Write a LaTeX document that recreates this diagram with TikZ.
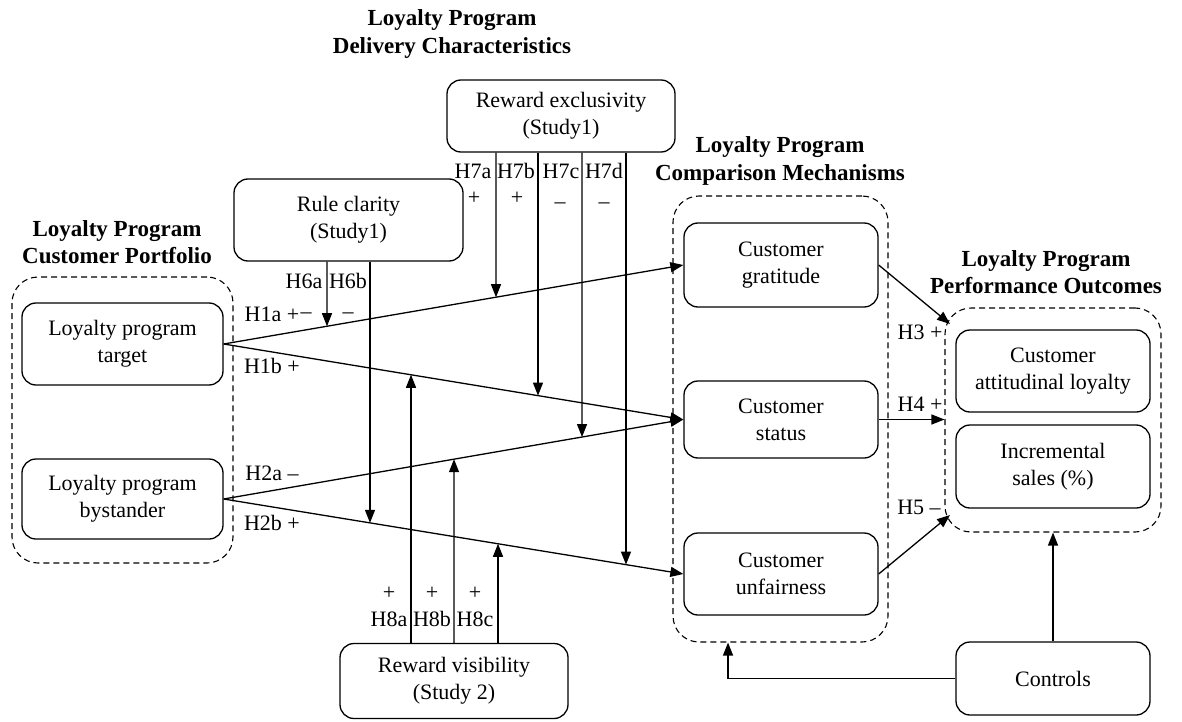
\documentclass[tikz,border=0pt]{standalone}
\usepackage{fontspec}
\setmainfont{Liberation Serif}
\usetikzlibrary{arrows.meta,calc}
\begin{document}
\begin{tikzpicture}[x=1pt,y=-1pt,
  font=\fontsize{22}{27}\selectfont,
  box/.style={draw,line width=1.3pt,rounded corners=14pt,align=center,inner sep=0pt},
  grp/.style={draw,line width=1.1pt,dash pattern=on 6pt off 4pt,rounded corners=26pt,inner sep=0pt},
  ttl/.style={font=\fontsize{23}{27.5}\selectfont\bfseries,align=center,inner sep=0pt},
  lbl/.style={inner sep=0pt,text height=0.68em,text depth=0pt},
  arr/.style={line width=1.3pt,-{Triangle[length=13pt,width=10pt]}},
]
\useasboundingbox (0,0) rectangle (1182,722);

% titles
\node[ttl] (tDC) at (452,34) {Loyalty Program\\Delivery Characteristics};
\node[ttl] (tCM) at (780,161) {Loyalty Program\\Comparison Mechanisms};
\node[ttl] (tCP) at (117,242) {Loyalty Program\\Customer Portfolio};
\node[ttl] (tPO) at (1046,272) {Loyalty Program\\Performance Outcomes};

% groups
\node[grp,minimum width=221pt,minimum height=286pt] (PF) at (122.5,420) {};
\node[grp,minimum width=215pt,minimum height=446pt] (CMP) at (780.5,419) {};
\node[grp,minimum width=216pt,minimum height=224pt] (OUT) at (1053,420) {};

% boxes
\node[box,minimum width=228pt,minimum height=72pt] (RE) at (561,116) {Reward exclusivity\\(Study1)};
\node[box,minimum width=229pt,minimum height=82pt] (RC) at (348.5,220) {Rule clarity\\(Study1)};
\node[box,minimum width=201pt,minimum height=82pt] (T) at (122.5,344) {Loyalty program\\target};
\node[box,minimum width=201pt,minimum height=80pt] (B) at (122.5,499) {Loyalty program\\bystander};
\node[box,minimum width=194pt,minimum height=84pt] (G) at (781,265) {Customer\\gratitude};
\node[box,minimum width=194pt,minimum height=77pt] (S) at (781,419.5) {Customer\\status};
\node[box,minimum width=194pt,minimum height=82pt] (U) at (781,574) {Customer\\unfairness};
\node[box,minimum width=194pt,minimum height=82pt] (AL) at (1053,371) {Customer\\attitudinal loyalty};
\node[box,minimum width=194pt,minimum height=83pt] (IS) at (1053,466.5) {Incremental\\sales (\%)};
\node[box,minimum width=194pt,minimum height=73pt] (C) at (1053,678.5) {Controls};
\node[box,minimum width=228pt,minimum height=75pt] (RV) at (454,681) {Reward visibility\\(Study 2)};

% main paths
\draw[arr] (T.east) -- (G.west);
\draw[arr] (T.east) -- (S.west);
\draw[arr] (B.east) -- (S.west);
\draw[arr] (B.east) -- (U.west);

\coordinate (t1) at (T.east);
\coordinate (b1) at (B.east);
\coordinate (g1) at (G.west);
\coordinate (s1) at (S.west);
\coordinate (u1) at (U.west);

% moderator start points
\coordinate (m6a) at ([xshift=-21.5pt]RC.south);
\coordinate (m6b) at ([xshift=21.5pt]RC.south);
\coordinate (m7a) at ([xshift=-65pt]RE.south);
\coordinate (m7b) at ([xshift=-23pt]RE.south);
\coordinate (m7c) at ([xshift=21pt]RE.south);
\coordinate (m7d) at ([xshift=65pt]RE.south);
\coordinate (m8a) at ([xshift=-43pt]RV.north);
\coordinate (m8b) at (RV.north);
\coordinate (m8c) at ([xshift=44pt]RV.north);
\foreach \m in {6a,6b,7a,7b,7c,7d,8a,8b,8c}{
  \coordinate (m\m x) at ($(m\m)+(0,300)$);
  \coordinate (m\m y) at ($(m\m)+(0,-300)$);
}
\coordinate (p6a) at (intersection of t1--g1 and m6a--m6ax);
\coordinate (p6b) at (intersection of b1--u1 and m6b--m6bx);
\coordinate (p7a) at (intersection of t1--g1 and m7a--m7ax);
\coordinate (p7b) at (intersection of t1--s1 and m7b--m7bx);
\coordinate (p7c) at (intersection of b1--s1 and m7c--m7cx);
\coordinate (p7d) at (intersection of b1--u1 and m7d--m7dx);
\coordinate (p8a) at (intersection of t1--s1 and m8a--m8ay);
\coordinate (p8b) at (intersection of b1--s1 and m8b--m8by);
\coordinate (p8c) at (intersection of b1--u1 and m8c--m8cy);
\foreach \m in {6a,6b,7a,7b,7c,7d,8a,8b,8c}{
  \draw[arr] (m\m) -- (p\m);
}

% outcomes
\coordinate (o3) at (950,324);
\coordinate (o5) at (950,515);
\coordinate (cb) at ([xshift=-52.5pt]CMP.south);
\draw[arr] (G.east) -- (o3);
\draw[arr] (S.east) -- (S.east -| OUT.west);
\draw[arr] (U.east) -- (o5);
\draw[arr] (C.north) -- (OUT.south);
\draw[arr] (C.west) -| (cb);

% labels
\node[lbl] (lH1a) at (272,318.5) {H1a +};
\node[lbl] (lH1b) at (272,370) {H1b +};
\node[lbl] (lH2a) at (272,477) {H2a –};
\node[lbl] (lH2b) at (272,527) {H2b +};
\node[lbl] (lH3) at (920,336) {H3 +};
\node[lbl] (lH4) at (920,408) {H4 +};
\node[lbl] (lH5) at (919,511) {H5 –};
\node[lbl] (lH6a) at (304,285) {H6a};
\node[lbl] (lH6b) at (348,285) {H6b};
\node[lbl] (sH6a) at (306,315) {–};
\node[lbl] (sH6b) at (348,315) {–};
\node[lbl] (lH7a) at (473,175) {H7a};
\node[lbl] (lH7b) at (516,175) {H7b};
\node[lbl] (lH7c) at (561,175) {H7c};
\node[lbl] (lH7d) at (604,175) {H7d};
\node[lbl] (sH7a) at (474,201) {+};
\node[lbl] (sH7b) at (517,201) {+};
\node[lbl] (sH7c) at (560,205) {–};
\node[lbl] (sH7d) at (604,205) {–};
\node[lbl] (sH8a) at (389,596) {+};
\node[lbl] (sH8b) at (432,596) {+};
\node[lbl] (sH8c) at (475,596) {+};
\node[lbl] (lH8a) at (389,623) {H8a};
\node[lbl] (lH8b) at (432,623) {H8b};
\node[lbl] (lH8c) at (475,623) {H8c};
\end{tikzpicture}
\end{document}
